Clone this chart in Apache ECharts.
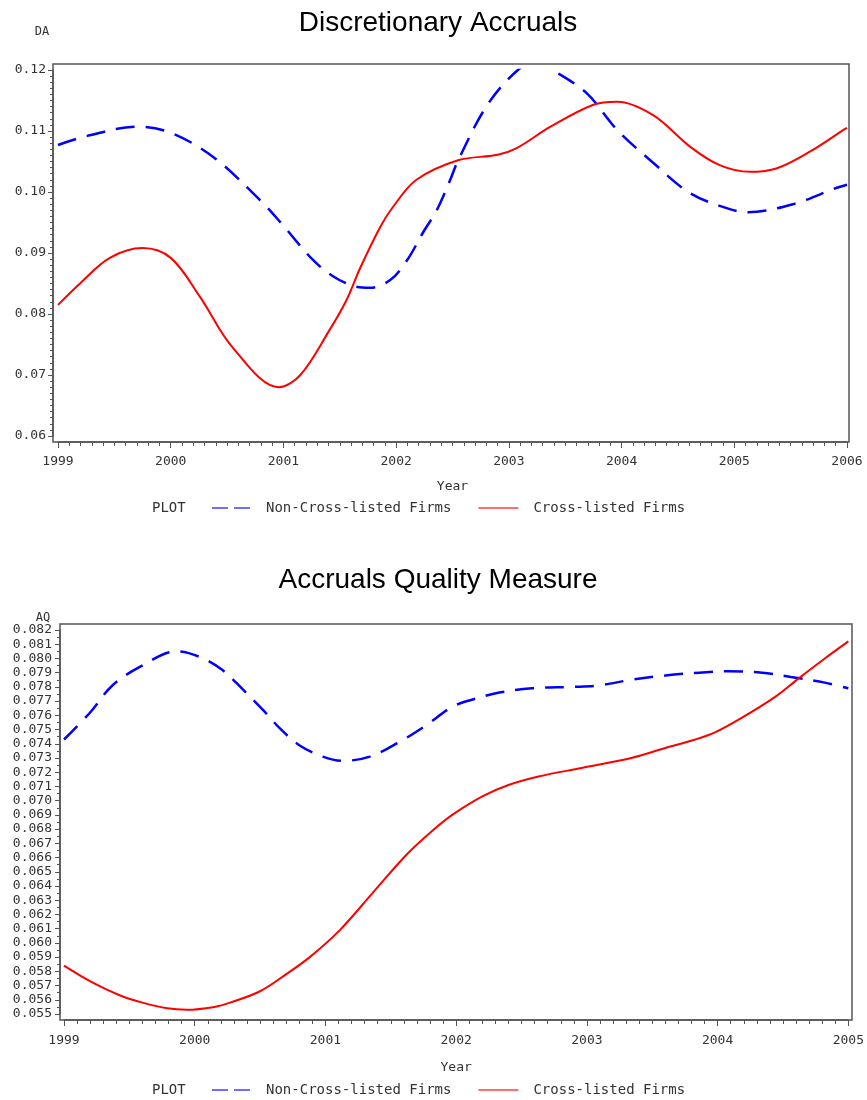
<!DOCTYPE html>
<html>
<head>
<meta charset="utf-8">
<script src="https://cdn.jsdelivr.net/npm/echarts@6/dist/echarts.min.js"></script>
<style>
  html, body { margin: 0; padding: 0; background: #fff; }
  #chart { width: 867px; height: 1100px; }
</style>
</head>
<body>
<div id="chart"></div>
<script>
// ---------- Data ----------
// Chart 1: Discretionary Accruals (DA)
const daNonYears = [1999.0, 1999.26, 1999.7, 2000.0, 2000.38, 2000.79, 2000.97, 2001.26, 2001.44, 2001.62, 2001.77, 2001.95, 2002.1, 2002.24, 2002.36, 2002.48, 2002.55, 2002.81, 2003.08, 2003.25, 2003.39, 2003.69, 2003.96, 2004.28, 2004.61, 2004.96, 2005.12, 2005.52, 2005.91, 2006.0];
const daNonVals  = [0.1077, 0.1092, 0.1107, 0.1097, 0.1057, 0.0987, 0.0951, 0.0889, 0.0862, 0.0846, 0.0843, 0.0856, 0.0889, 0.0934, 0.0970, 0.1020, 0.1052, 0.1143, 0.1200, 0.1215, 0.1200, 0.1162, 0.1102, 0.1048, 0.0998, 0.0972, 0.0967, 0.0980, 0.1007, 0.1012];
const daCrossYears = [1999.0, 1999.2, 1999.46, 1999.75, 2000.0, 2000.26, 2000.55, 2000.96, 2001.15, 2001.41, 2001.56, 2001.68, 2001.86, 2001.97, 2002.18, 2002.55, 2002.9, 2003.07, 2003.37, 2003.75, 2003.96, 2004.28, 2004.61, 2004.87, 2005.14, 2005.38, 2005.67, 2005.98, 2006.0];
const daCrossVals  = [0.0815, 0.0851, 0.0892, 0.0908, 0.0892, 0.0828, 0.0745, 0.0680, 0.0700, 0.0774, 0.0823, 0.0875, 0.0943, 0.0975, 0.1020, 0.1052, 0.1061, 0.1072, 0.1107, 0.1143, 0.1148, 0.1126, 0.1074, 0.1044, 0.1033, 0.1039, 0.1066, 0.1103, 0.1105];

// Chart 2: Accruals Quality Measure (AQ)
const aqNonYears = [1999.0, 1999.2, 1999.37, 1999.58, 1999.86, 2000.04, 2000.21, 2000.37, 2000.52, 2000.65, 2000.8, 2000.98, 2001.13, 2001.34, 2001.56, 2001.77, 2001.97, 2002.12, 2002.33, 2002.58, 2002.89, 2003.09, 2003.34, 2003.6, 2003.86, 2004.08, 2004.34, 2004.56, 2004.82, 2005.0];
const aqNonVals  = [0.0743, 0.0762, 0.0781, 0.0794, 0.0805, 0.0801, 0.0792, 0.0778, 0.0764, 0.0751, 0.0739, 0.0731, 0.0728, 0.0731, 0.0741, 0.0753, 0.0766, 0.0771, 0.0776, 0.0779, 0.0780, 0.0781, 0.0785, 0.0788, 0.0790, 0.0791, 0.0790, 0.0787, 0.0783, 0.0779];
const aqCrossYears = [1999.0, 1999.22, 1999.43, 1999.6, 1999.79, 1999.94, 2000.15, 2000.27, 2000.5, 2000.7, 2000.88, 2001.11, 2001.36, 2001.62, 2001.82, 2001.97, 2002.2, 2002.4, 2002.63, 2002.96, 2003.34, 2003.6, 2003.83, 2003.98, 2004.18, 2004.44, 2004.62, 2004.82, 2005.0];
const aqCrossVals  = [0.0584, 0.0572, 0.0563, 0.0558, 0.0554, 0.0553, 0.0555, 0.0558, 0.0566, 0.0578, 0.0590, 0.0609, 0.0635, 0.0662, 0.0679, 0.0690, 0.0703, 0.0711, 0.0717, 0.0723, 0.0730, 0.0737, 0.0743, 0.0748, 0.0758, 0.0773, 0.0786, 0.0800, 0.0812];

const seriesNames = ['Non-Cross-listed Firms', 'Cross-listed Firms'];
const titles = ['Discretionary Accruals', 'Accruals Quality Measure'];
const yNames = ['DA', 'AQ'];
const xName = 'Year';
const legendLead = 'PLOT';

// ---------- Layout ----------
const W = 867, H = 1100;
const grids = [
  { left: 58, right: 20, top: 70, bottom: 664 },
  { left: 64, right: 17, top: 630, bottom: 86 }
];
// SAS-style axis offsets (left, bottom, top, right) for the surrounding frame
const frameOff = [
  { l: 5, b: 6, t: 6, r: 2 },
  { l: 4, b: 6, t: 6, r: 2 }
];

const zip = (xs, ys) => xs.map((x, i) => [x, ys[i]]);
const AX = '#555';
const TXT = '#333';
const MONO = '"DejaVu Sans Mono", "Liberation Mono", monospace';

function mainX(gridIndex, min, max, margin, nameGap) {
  return {
    type: 'value', gridIndex, min, max, interval: 1, position: 'bottom', offset: frameOff[gridIndex].b,
    name: xName, nameLocation: 'middle', nameGap,
    nameTextStyle: { fontFamily: MONO, fontSize: 13, color: TXT },
    axisLine: { show: true, onZero: false, lineStyle: { color: AX, width: 1.5 } },
    axisTick: { show: true, length: 6, lineStyle: { color: AX } },
    minorTick: { show: true, splitNumber: 10, length: 4, lineStyle: { color: AX } },
    axisLabel: { margin, fontFamily: MONO, fontSize: 13, color: TXT, formatter: v => String(Math.round(v)) },
    splitLine: { show: false }, minorSplitLine: { show: false }
  };
}
function mainY(gridIndex, min, max, interval, split, margin, digits) {
  return {
    type: 'value', gridIndex, min, max, interval, position: 'left', offset: frameOff[gridIndex].l,
    axisLine: { show: true, onZero: false, lineStyle: { color: AX, width: 1.5 } },
    axisTick: { show: true, length: 5, lineStyle: { color: AX } },
    minorTick: { show: true, splitNumber: split, length: 3, lineStyle: { color: AX } },
    axisLabel: { margin, fontFamily: MONO, fontSize: 13, color: TXT, formatter: v => v.toFixed(digits) },
    splitLine: { show: false }, minorSplitLine: { show: false }
  };
}
function lineSeries(name, data, xi, yi, dashed) {
  return {
    name, type: 'line', data, xAxisIndex: xi, yAxisIndex: yi,
    smooth: 0.35, symbol: 'none', showSymbol: false, clip: true,
    lineStyle: dashed ? { color: '#0000ff', width: 2.5, type: [19, 11] } : { color: '#ff0000', width: 2 },
    itemStyle: { color: dashed ? '#0000ff' : '#ff0000' },
    emphasis: { disabled: true }, animation: false
  };
}
function legendAt(top) {
  return {
    left: 212, top, padding: 0, itemGap: 27, itemWidth: 40, itemHeight: 2,
    selectedMode: false,
    textStyle: { fontFamily: MONO, fontSize: 14, color: TXT, padding: [0, 0, 0, 10] },
    data: [
      { name: seriesNames[0], icon: 'path://M0,0h16v2h-16z M22,0h16v2h-16z', itemStyle: { color: '#6f6fff' } },
      { name: seriesNames[1], icon: 'rect', itemStyle: { color: '#ff6f6f' } }
    ]
  };
}
function frameRect(i) {
  const g = grids[i], o = frameOff[i];
  const x = g.left - o.l, y = g.top - o.t;
  return {
    type: 'rect', silent: true, z: 10,
    shape: { x, y, width: (W - g.right + o.r) - x, height: (H - g.bottom + o.b) - y },
    style: { fill: 'none', stroke: AX, lineWidth: 1.5 }
  };
}

const titleFont = '"Liberation Sans", Arial, sans-serif';
const option = {
  animation: false,
  backgroundColor: '#fff',
  title: [
    { text: titles[0], left: 438, textAlign: 'center', top: 9, padding: 0,
      textStyle: { fontFamily: titleFont, fontSize: 28, fontWeight: 'normal', color: '#000' } },
    { text: titles[1], left: 438, textAlign: 'center', top: 566, padding: 0,
      textStyle: { fontFamily: titleFont, fontSize: 28, fontWeight: 'normal', color: '#000' } },
    { text: yNames[0], left: 42, textAlign: 'center', top: 26, padding: 0,
      textStyle: { fontFamily: MONO, fontSize: 12, fontWeight: 'normal', color: TXT } },
    { text: yNames[1], left: 43, textAlign: 'center', top: 612, padding: 0,
      textStyle: { fontFamily: MONO, fontSize: 12, fontWeight: 'normal', color: TXT } },
    { text: legendLead, left: 152, top: 501, padding: 0,
      textStyle: { fontFamily: MONO, fontSize: 14, fontWeight: 'normal', color: TXT } },
    { text: legendLead, left: 152, top: 1083, padding: 0,
      textStyle: { fontFamily: MONO, fontSize: 14, fontWeight: 'normal', color: TXT } }
  ],
  legend: [legendAt(501), legendAt(1083)],
  grid: grids.map(g => Object.assign({ containLabel: false }, g)),
  xAxis: [
    mainX(0, 1999, 2006, 13, 38),
    mainX(1, 1999, 2005, 14, 41)
  ],
  yAxis: [
    mainY(0, 0.06, 0.12, 0.01, 10, 7, 2),
    mainY(1, 0.055, 0.082, 0.001, 2, 8, 3)
  ],
  graphic: [frameRect(0), frameRect(1)],
  series: [
    lineSeries(seriesNames[0], zip(daNonYears, daNonVals), 0, 0, true),
    lineSeries(seriesNames[1], zip(daCrossYears, daCrossVals), 0, 0, false),
    lineSeries(seriesNames[0], zip(aqNonYears, aqNonVals), 1, 1, true),
    lineSeries(seriesNames[1], zip(aqCrossYears, aqCrossVals), 1, 1, false)
  ]
};

const chart = echarts.init(document.getElementById('chart'), null, { renderer: 'canvas' });
chart.setOption(option);
</script>
</body>
</html>
